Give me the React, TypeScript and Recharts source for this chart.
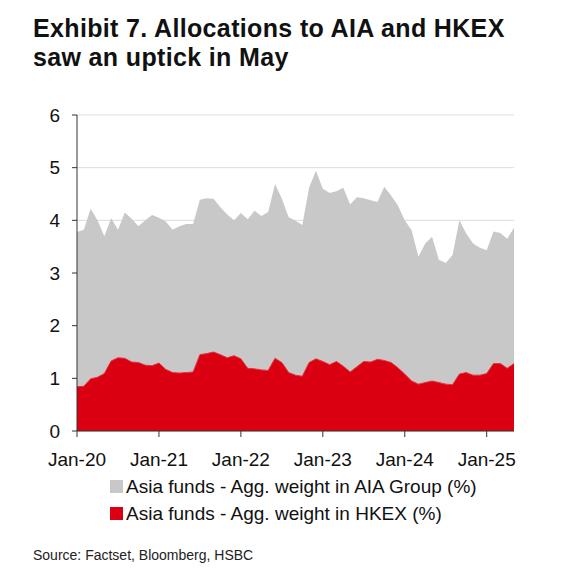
import { AreaChart, Area, XAxis, YAxis, CartesianGrid } from "recharts";

const FONT = "'Liberation Sans', Arial, sans-serif";

// monthly, Jan-20 .. May-25
const aiaWeight = [
  3.78, 3.82, 4.22, 4.0, 3.7, 4.04, 3.82, 4.15, 4.03, 3.89, 4.0, 4.1,
  4.05, 3.98, 3.82, 3.89, 3.93, 3.93, 4.39, 4.42, 4.41, 4.25, 4.11, 4.0,
  4.14, 4.02, 4.18, 4.08, 4.16, 4.69, 4.41, 4.06, 3.99, 3.91, 4.63, 4.94,
  4.6, 4.52, 4.55, 4.62, 4.3, 4.44, 4.42, 4.38, 4.35, 4.64, 4.47, 4.28,
  4.0, 3.81, 3.31, 3.56, 3.69, 3.25, 3.19, 3.34, 4.0, 3.75, 3.56, 3.48,
  3.43, 3.79, 3.76, 3.65, 3.86
];

const hkexWeight = [
  0.84, 0.85, 0.99, 1.02, 1.09, 1.33, 1.39, 1.38, 1.31, 1.3, 1.25, 1.24,
  1.29, 1.17, 1.11, 1.1, 1.11, 1.12, 1.45, 1.47, 1.5, 1.45, 1.39, 1.43,
  1.37, 1.19, 1.18, 1.16, 1.15, 1.38, 1.3, 1.11, 1.06, 1.04, 1.3, 1.37,
  1.32, 1.26, 1.32, 1.23, 1.12, 1.22, 1.32, 1.31, 1.36, 1.34, 1.3, 1.2,
  1.08, 0.95, 0.89, 0.92, 0.95, 0.92, 0.89, 0.88, 1.08, 1.11, 1.06, 1.06,
  1.09, 1.28, 1.28, 1.19, 1.28
];

const xTicks = [0, 12, 24, 36, 48, 60];
const xTickLabels = ["Jan-20", "Jan-21", "Jan-22", "Jan-23", "Jan-24", "Jan-25"];
const yTicks = [0, 1, 2, 3, 4, 5, 6];

const data = aiaWeight.map((v, i) => ({ i, aia: v, hkex: hkexWeight[i] }));

const GREY = "#c8c8c8";
const RED = "#db0011";

export default function App() {
  return (
    <div
      style={{
        position: "absolute",
        left: 0,
        top: 0,
        width: 580,
        height: 573,
        background: "#fff",
        fontFamily: FONT,
      }}
    >
      <div
        style={{
          position: "absolute",
          left: 33,
          top: 14,
          fontSize: 25,
          fontWeight: "bold",
          lineHeight: "29px",
          letterSpacing: 0.35,
          color: "#111",
        }}
      >
        Exhibit 7. Allocations to AIA and HKEX
        <br />
        saw an uptick in May
      </div>

      <div style={{ position: "absolute", left: 0, top: 100 }}>
        <AreaChart
          width={580}
          height={380}
          data={data}
          margin={{ top: 15, right: 66, bottom: 9, left: 0 }}
        >
          <CartesianGrid vertical={false} stroke="#dddddd" />
          <XAxis
            dataKey="i"
            type="number"
            domain={[0, 64]}
            ticks={xTicks}
            tickFormatter={(v: number) => xTickLabels[xTicks.indexOf(v)]}
            height={40}
            tickSize={6}
            tickMargin={16}
            axisLine={{ stroke: "#333" }}
            tickLine={{ stroke: "#333" }}
            tick={{ fill: "#111", fontSize: 19, fontFamily: FONT }}
          />
          <YAxis
            domain={[0, 6]}
            ticks={yTicks}
            width={77}
            tickSize={5}
            tickMargin={12}
            axisLine={{ stroke: "#333" }}
            tickLine={{ stroke: "#333" }}
            tick={{ fill: "#111", fontSize: 19, fontFamily: FONT }}
          />
          <Area
            type="linear"
            dataKey="aia"
            stroke="none"
            fill={GREY}
            fillOpacity={1}
            isAnimationActive={false}
          />
          <Area
            type="linear"
            dataKey="hkex"
            stroke="#e8303a"
            strokeWidth={1}
            fill={RED}
            fillOpacity={1}
            isAnimationActive={false}
          />
        </AreaChart>
      </div>

      <div
        style={{
          position: "absolute",
          left: 110,
          top: 473,
          fontSize: 19,
          lineHeight: "27px",
          color: "#111",
        }}
      >
        <div style={{ display: "flex", alignItems: "center" }}>
          <span style={{ width: 13, height: 13, background: GREY, marginRight: 3 }} />
          Asia funds - Agg. weight in AIA Group (%)
        </div>
        <div style={{ display: "flex", alignItems: "center" }}>
          <span style={{ width: 13, height: 13, background: RED, marginRight: 3 }} />
          Asia funds - Agg. weight in HKEX (%)
        </div>
      </div>

      <div
        style={{
          position: "absolute",
          left: 33,
          top: 547,
          fontSize: 14,
          color: "#222",
        }}
      >
        Source: Factset, Bloomberg, HSBC
      </div>
    </div>
  );
}
